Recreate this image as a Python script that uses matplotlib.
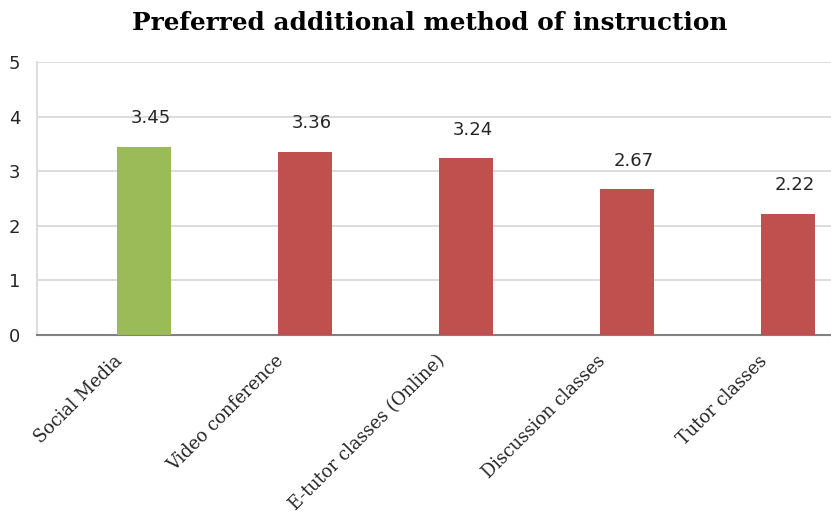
import matplotlib
matplotlib.use('Agg')
import matplotlib.pyplot as plt
import matplotlib.transforms as mtransforms
import numpy as np

# chart data
categories = ["Social Media", "Video conference", "E-tutor classes (Online)",
              "Discussion classes", "Tutor classes"]
scores = [3.45, 3.36, 3.24, 2.67, 2.22]
bar_colors = ["#9BBB59", "#C0504D", "#C0504D", "#C0504D", "#C0504D"]
y_ticks = [0, 1, 2, 3, 4, 5]

W, H = 831, 519
fig = plt.figure(figsize=(W / 100, H / 100), dpi=100)
ax = fig.add_axes([37 / W, 1 - 335 / H, 1 - 37 / W, (335 - 62) / H])

x = np.arange(len(categories))
shift = 0.165  # bars sit to the right of the category centre
bars = ax.bar(x + shift, scores, width=0.335, color=bar_colors, zorder=3)

for b, v in zip(bars, scores):
    ax.annotate(f"{v:.2f}", (b.get_x() + b.get_width() / 2 + 0.04, v),
                xytext=(0, 14), textcoords="offset points",
                ha="center", va="bottom", fontsize=13, color="#262626",
                family="DejaVu Sans")

ax.set_xlim(-0.5, 4.43)
ax.set_ylim(0, 5)
ax.set_yticks(y_ticks)
ax.yaxis.grid(True, color="#D9D9D9", linewidth=1.3, zorder=0)
ax.set_axisbelow(True)

ax.set_xticks(x)
ax.set_xticklabels(categories, rotation=45, ha="right", rotation_mode="anchor",
                   family="DejaVu Serif", fontsize=12.8, color="#262626")
ax.tick_params(axis="x", length=0, pad=12)
ax.tick_params(axis="y", length=0, pad=12, labelsize=13, labelcolor="#262626")
# nudge the slanted labels a little to the left
nudge = mtransforms.ScaledTranslation(-4 / 100, 0, fig.dpi_scale_trans)
for lbl in ax.get_xticklabels():
    lbl.set_transform(lbl.get_transform() + nudge)

for s in ["top", "right"]:
    ax.spines[s].set_visible(False)
ax.spines["left"].set_color("#D9D9D9")
ax.spines["left"].set_linewidth(1.3)
ax.spines["bottom"].set_color("#808080")
ax.spines["bottom"].set_linewidth(1.5)

fig.text(430 / W, 1 - 23 / H, "Preferred additional method of instruction",
         ha="center", va="center", fontsize=17.8, fontweight="bold",
         family="DejaVu Serif", color="black")

fig.savefig("out.png", dpi=100)
